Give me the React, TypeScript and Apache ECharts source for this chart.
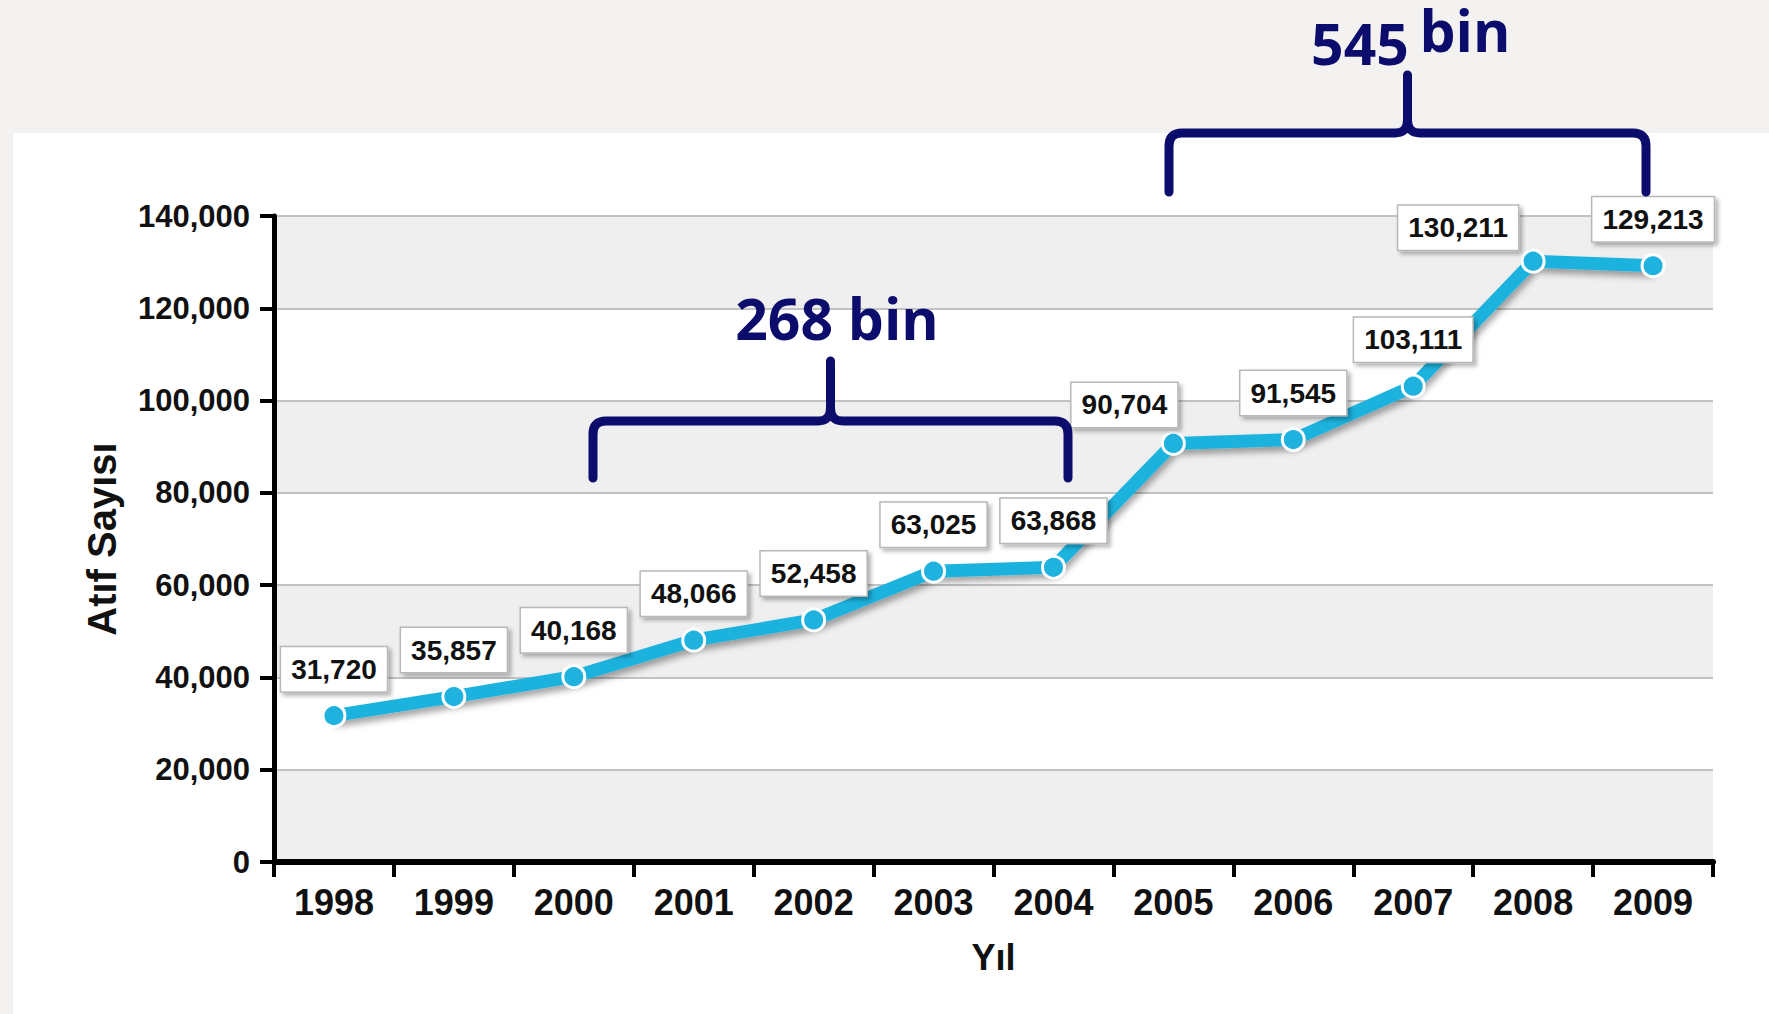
import React, { useEffect, useRef } from "react";
import * as echarts from "echarts";

const years = ["1998", "1999", "2000", "2001", "2002", "2003", "2004", "2005", "2006", "2007", "2008", "2009"];
const citations = [31720, 35857, 40168, 48066, 52458, 63025, 63868, 90704, 91545, 103111, 130211, 129213];
const yTicks = [0, 20000, 40000, 60000, 80000, 100000, 120000, 140000];
const xAxisTitle = "Yıl";
const yAxisTitle = "Atıf Sayısı";
const bracketLeftText = "268 bin";
const bracketRightNumber = "545";
const bracketRightUnit = "bin";

const labelNudges: Record<string, [number, number]> = { "2005": [-49, 8], "2008": [-75, 13] };

const fmt = (v: number) => String(v).replace(/\B(?=(\d{3})+(?!\d))/g, ",");

const NAVY = "#0c0c6c";
const FONT = "'Liberation Sans', Arial, sans-serif";
const BRACE_FONT = "'Open Sans', 'Noto Sans', sans-serif";

const brace1 =
  "M593 478 L593 434 Q593 421 606 421 L818 421 Q830.5 421 830.5 408 L830.5 361 M830.5 408 Q830.5 421 843 421 L1055 421 Q1068 421 1068 434 L1068 478";
const brace2 =
  "M1169 192 L1169 146 Q1169 133 1182 133 L1395 133 Q1407.5 133 1407.5 120 L1407.5 75 M1407.5 120 Q1407.5 133 1420 133 L1633 133 Q1646 133 1646 146 L1646 192";

try {
  echarts.graphic.registerShape("brace1", echarts.graphic.extendPath(brace1, {}));
  echarts.graphic.registerShape("brace2", echarts.graphic.extendPath(brace2, {}));
} catch (e) {}

export default function App() {
  const ref = useRef<HTMLDivElement>(null);
  useEffect(() => {
    if (!ref.current) return;
    const chart = echarts.init(ref.current, undefined, { renderer: "svg" });
    const braceStyle = { fill: "none", stroke: NAVY, lineWidth: 9, lineCap: "round", lineJoin: "round" };
    const braceFont = `bold 57px ${BRACE_FONT}`;
    chart.setOption({
      animation: false,
      backgroundColor: "#f3f2f1",
      grid: { left: 274, right: 56, top: 216, bottom: 152, containLabel: false },
      xAxis: {
        type: "category",
        data: years,
        boundaryGap: true,
        name: xAxisTitle,
        nameLocation: "middle",
        nameGap: 77,
        nameTextStyle: { fontFamily: FONT, fontWeight: "bold", fontSize: 36, color: "#111" },
        axisLine: { show: true, lineStyle: { color: "#000", width: 6 } },
        axisTick: { show: true, alignWithLabel: false, length: 15, lineStyle: { color: "#000", width: 4 } },
        axisLabel: { fontFamily: FONT, fontWeight: "bold", fontSize: 36, color: "#111", margin: 22 },
        splitLine: { show: false },
        z: 5,
      },
      yAxis: {
        type: "value",
        min: yTicks[0],
        max: yTicks[yTicks.length - 1],
        interval: yTicks[1] - yTicks[0],
        name: yAxisTitle,
        nameLocation: "middle",
        nameGap: 152,
        nameRotate: 90,
        nameTextStyle: { fontFamily: FONT, fontWeight: "bold", fontSize: 40, color: "#111" },
        axisLine: { show: true, lineStyle: { color: "#000", width: 5 } },
        axisTick: { show: true, inside: false, length: 14, lineStyle: { color: "#000", width: 4 } },
        axisLabel: {
          fontFamily: FONT,
          fontWeight: "bold",
          fontSize: 31,
          color: "#111",
          margin: 24,
          formatter: (v: number) => fmt(v),
        },
        splitLine: { show: true, lineStyle: { color: "#c2c2c2", width: 2 } },
        splitArea: { show: true, areaStyle: { color: ["#efefef", "#ffffff"] } },
        z: 4,
      },
      series: [
        {
          type: "line",
          data: citations.map((v, i) => {
            const nudge = labelNudges[years[i]];
            return nudge ? { value: v, label: { offset: nudge } } : v;
          }),
          symbol: "circle",
          symbolSize: 22,
          lineStyle: {
            color: "#1fb2de",
            width: 13,
            shadowColor: "rgba(0,0,0,0.35)",
            shadowBlur: 6,
            shadowOffsetX: 2,
            shadowOffsetY: 5,
          },
          itemStyle: { color: "#1fb2de", borderColor: "#ffffff", borderWidth: 3 },
          label: {
            show: true,
            position: "top",
            distance: 12,
            formatter: (p: any) => fmt(p.value),
            fontFamily: FONT,
            fontWeight: "bold",
            fontSize: 28,
            color: "#111",
            backgroundColor: "#ffffff",
            borderColor: "#b8b8b8",
            borderWidth: 1.5,
            padding: [8, 10, 8, 10],
            shadowColor: "rgba(0,0,0,0.3)",
            shadowBlur: 4,
            shadowOffsetX: 3,
            shadowOffsetY: 3,
          },
          z: 10,
        },
      ],
      graphic: [
        {
          type: "rect",
          z: -10,
          silent: true,
          shape: { x: 13, y: 133, width: 1769 - 13, height: 1014 - 133 },
          style: { fill: "#ffffff" },
        },
        { type: "brace1", z: 20, style: braceStyle },
        { type: "brace2", z: 20, style: braceStyle },
        {
          type: "text",
          z: 20,
          x: 837,
          y: 318,
          style: { text: bracketLeftText, fill: NAVY, font: braceFont, textAlign: "center", textVerticalAlign: "middle" },
        },
        {
          type: "text",
          z: 20,
          x: 1360,
          y: 43,
          style: { text: bracketRightNumber, fill: NAVY, font: braceFont, textAlign: "center", textVerticalAlign: "middle" },
        },
        {
          type: "text",
          z: 20,
          x: 1465,
          y: 30,
          style: { text: bracketRightUnit, fill: NAVY, font: braceFont, textAlign: "center", textVerticalAlign: "middle" },
        },
      ],
    });
    return () => chart.dispose();
  }, []);
  return <div ref={ref} style={{ position: "fixed", left: 0, top: 0, width: 1769, height: 1014 }} />;
}
